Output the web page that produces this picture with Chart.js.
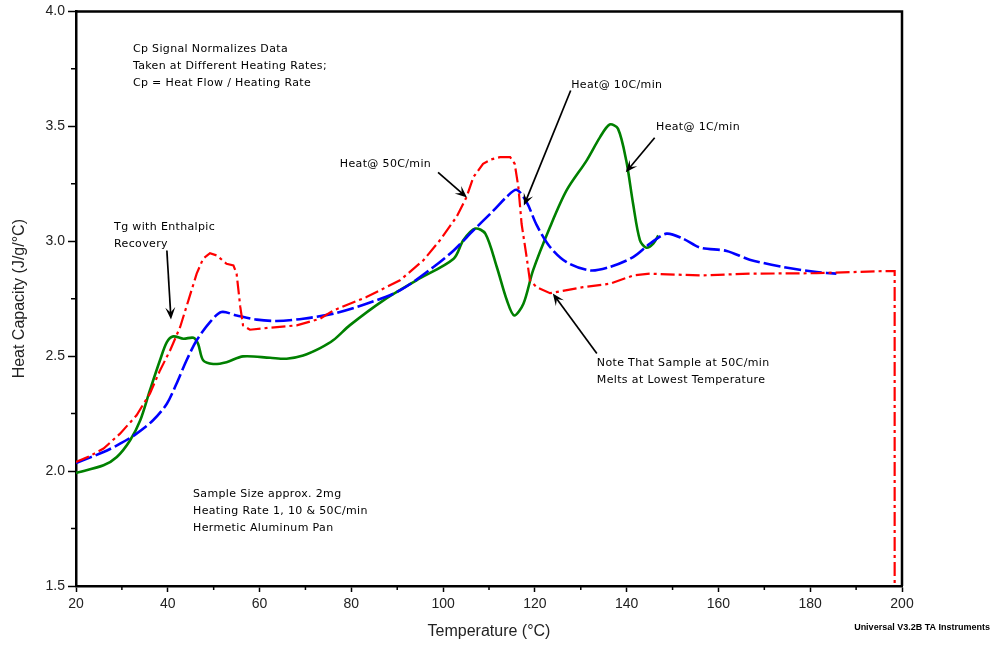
<!DOCTYPE html>
<html><head><meta charset="utf-8">
<script src="https://cdn.jsdelivr.net/npm/chart.js@4.4.0/dist/chart.umd.min.js"></script>
<style>html,body{margin:0;padding:0;background:#fff;}#wrap{width:995px;height:645px;position:relative;}</style>
</head><body><div id="wrap"><canvas id="c" width="995" height="645"></canvas></div>
<script>
// ---- data (Temperature °C, Heat Capacity J/g/°C) ----
const red50T  = [20, 23, 26, 29.6, 33.2, 36.1, 38.3, 40.5, 42.7, 44.5, 46.3, 47.7, 49.2, 50.7, 52.8, 54.3, 55.0, 55.8, 56.4, 57.9, 62.3, 68.1, 73.2, 76.1, 83.3, 90.6, 95.7, 99.3, 102.9, 105.1, 106.6, 108.7, 110.5, 112.4, 114.6, 115.6, 116.4, 117.1, 118.2, 118.9, 120.4, 123.3, 130.5, 136.3, 141.4, 145.1, 156.0, 166.8, 181.4, 195.9, 198.4, 198.4];
const red50Cp = [2.04, 2.065, 2.098, 2.163, 2.243, 2.337, 2.438, 2.525, 2.627, 2.743, 2.859, 2.924, 2.948, 2.938, 2.902, 2.895, 2.859, 2.714, 2.634, 2.615, 2.624, 2.634, 2.663, 2.699, 2.757, 2.83, 2.917, 3.004, 3.105, 3.192, 3.279, 3.337, 3.356, 3.366, 3.366, 3.337, 3.236, 3.076, 2.931, 2.83, 2.80, 2.774, 2.80, 2.815, 2.851, 2.859, 2.851, 2.859, 2.861, 2.87, 2.87, 1.5];

const blue10T  = [20, 26, 29.6, 33.2, 36.8, 39.8, 41.9, 44.1, 46.3, 49.2, 51.7, 55.0, 59.4, 63.7, 69.5, 76.1, 83.3, 90.6, 97.9, 102.3, 106.6, 111.0, 113.8, 116.0, 118.2, 120.4, 123.3, 126.9, 132.0, 136.3, 141.4, 145.1, 148.7, 152.3, 156.0, 161.8, 166.8, 174.1, 181.4, 185.7];
const blue10Cp = [2.035, 2.083, 2.119, 2.163, 2.221, 2.293, 2.38, 2.482, 2.569, 2.648, 2.692, 2.677, 2.659, 2.653, 2.663, 2.685, 2.728, 2.786, 2.888, 2.96, 3.047, 3.134, 3.192, 3.224, 3.17, 3.07, 2.975, 2.909, 2.873, 2.888, 2.931, 2.99, 3.033, 3.011, 2.972, 2.958, 2.92, 2.888, 2.866, 2.859];

const green1T  = [20, 26, 28.9, 31.8, 34.0, 36.1, 38.3, 39.8, 41.2, 43.4, 45.6, 46.6, 47.7, 49.9, 52.8, 56.4, 62.3, 65.9, 69.5, 73.2, 76.1, 79.7, 87.0, 94.2, 102.3, 104.4, 107.0, 109.2, 111.7, 113.9, 115.5, 117.5, 119.6, 123.3, 126.9, 131.3, 134.2, 136.3, 138.1, 139.9, 141.4, 142.9, 144.3, 145.8, 146.9];
const green1Cp = [1.992, 2.025, 2.061, 2.134, 2.221, 2.351, 2.482, 2.561, 2.586, 2.576, 2.58, 2.554, 2.482, 2.466, 2.474, 2.499, 2.493, 2.489, 2.503, 2.535, 2.57, 2.635, 2.743, 2.83, 2.924, 3.004, 3.055, 3.033, 2.888, 2.743, 2.677, 2.728, 2.873, 3.062, 3.221, 3.352, 3.453, 3.508, 3.49, 3.352, 3.163, 3.004, 2.972, 2.99, 3.025];

const xMajorTicks = [20, 40, 60, 80, 100, 120, 140, 160, 180, 200];
const xMinorTicks = [30, 50, 70, 90, 110, 130, 150, 170, 190];
const yMajorTicks = [1.5, 2.0, 2.5, 3.0, 3.5, 4.0];
const yMinorTicks = [1.75, 2.25, 2.75, 3.25, 3.75];

const xTitle = 'Temperature (°C)';
const yTitle = 'Heat Capacity (J/g/°C)';
const footer = 'Universal V3.2B TA Instruments';

// annotation texts anchored at (temperature, heat capacity) = left/middle of first line
const noteTexts = [
  {x: 32.4, y: 3.836, lines: ['Cp Signal Normalizes Data', 'Taken at Different Heating Rates;', 'Cp = Heat Flow / Heating Rate']},
  {x: 28.3, y: 3.06,  lines: ['Tg with Enthalpic', 'Recovery']},
  {x: 77.5, y: 3.335, lines: ['Heat@ 50C/min']},
  {x: 127.9, y: 3.68, lines: ['Heat@ 10C/min']},
  {x: 146.4, y: 3.496, lines: ['Heat@ 1C/min']},
  {x: 133.5, y: 2.469, lines: ['Note That Sample at 50C/min', 'Melts at Lowest Temperature']},
  {x: 45.5, y: 1.899, lines: ['Sample Size approx. 2mg', 'Heating Rate 1, 10 & 50C/min', 'Hermetic Aluminum Pan']}
];
// arrows: tail -> head in data coordinates
const arrowTails = [[39.8, 2.96], [98.9, 3.30], [127.8, 3.656], [146.1, 3.45], [133.5, 2.512]];
const arrowHeads = [[40.7, 2.66], [105.2, 3.19], [117.6, 3.155], [139.8, 3.30], [123.9, 2.773]];

const toXY = (xs, ys) => xs.map((x, i) => ({x: x, y: ys[i]}));

const decor = {
  id: 'decor',
  afterDatasetsDraw(chart) {
    const ctx = chart.ctx, a = chart.chartArea;
    const xs = chart.scales.x, ys = chart.scales.y;
    ctx.save();
    // frame top & right
    ctx.strokeStyle = '#000'; ctx.lineWidth = 2.5;
    ctx.beginPath();
    ctx.moveTo(a.left, a.top); ctx.lineTo(a.right, a.top); ctx.lineTo(a.right, a.bottom);
    ctx.stroke();
    // minor ticks
    ctx.lineWidth = 1.5;
    ctx.beginPath();
    xMinorTicks.forEach(v => { const px = xs.getPixelForValue(v); ctx.moveTo(px, a.bottom); ctx.lineTo(px, a.bottom + 4); });
    yMinorTicks.forEach(v => { const py = ys.getPixelForValue(v); ctx.moveTo(a.left, py); ctx.lineTo(a.left - 5, py); });
    ctx.stroke();
    // arrows
    ctx.strokeStyle = '#000'; ctx.fillStyle = '#000'; ctx.lineWidth = 1.7;
    arrowTails.forEach((t, i) => {
      const h = arrowHeads[i];
      const x0 = xs.getPixelForValue(t[0]), y0 = ys.getPixelForValue(t[1]);
      const x1 = xs.getPixelForValue(h[0]), y1 = ys.getPixelForValue(h[1]);
      const ang = Math.atan2(y1 - y0, x1 - x0);
      const L = 12, W = 5;
      const bx = x1 - L * Math.cos(ang), by = y1 - L * Math.sin(ang);
      ctx.beginPath(); ctx.moveTo(x0, y0); ctx.lineTo(x1 - 6 * Math.cos(ang), y1 - 6 * Math.sin(ang)); ctx.stroke();
      ctx.beginPath();
      ctx.moveTo(x1, y1);
      ctx.lineTo(bx + W * Math.sin(ang), by - W * Math.cos(ang));
      ctx.lineTo(x1 - 7 * Math.cos(ang), y1 - 7 * Math.sin(ang));
      ctx.lineTo(bx - W * Math.sin(ang), by + W * Math.cos(ang));
      ctx.closePath(); ctx.fill();
    });
    // notes
    ctx.font = '11px "DejaVu Sans", "Liberation Sans", Arial, sans-serif';
    try { ctx.letterSpacing = '0.35px'; } catch (e) {}
    ctx.fillStyle = '#000'; ctx.textAlign = 'left'; ctx.textBaseline = 'middle';
    noteTexts.forEach(n => {
      const px = xs.getPixelForValue(n.x), py = ys.getPixelForValue(n.y);
      n.lines.forEach((s, k) => ctx.fillText(s, px, py + k * 17));
    });
    // footer
    ctx.font = 'bold 9px "Liberation Sans Narrow", "Liberation Sans", Arial, sans-serif';
    try { ctx.letterSpacing = '0px'; } catch (e) {}
    ctx.textAlign = 'right';
    ctx.fillText(footer, chart.width - 5, 628);
    ctx.restore();
  }
};

new Chart(document.getElementById('c'), {
  type: 'line',
  data: {
    datasets: [
      {label: 'Heat@ 50C/min', data: toXY(red50T, red50Cp), borderColor: '#ff0000', borderWidth: 2.2, borderDash: [14, 4, 3, 4], tension: 0, pointRadius: 0, fill: false},
      {label: 'Heat@ 10C/min', data: toXY(blue10T, blue10Cp), borderColor: '#0000ff', borderWidth: 2.6, borderDash: [17, 4], tension: 0.3, pointRadius: 0, fill: false},
      {label: 'Heat@ 1C/min', data: toXY(green1T, green1Cp), borderColor: '#008000', borderWidth: 2.6, tension: 0.3, pointRadius: 0, fill: false}
    ]
  },
  options: {
    responsive: false, animation: false, devicePixelRatio: 1,
    layout: {padding: {top: 11, right: 93, left: 0, bottom: 0}},
    plugins: {legend: {display: false}, tooltip: {enabled: false}},
    scales: {
      x: {
        type: 'linear', min: 20, max: 200,
        afterBuildTicks: s => { s.ticks = xMajorTicks.map(v => ({value: v})); },
        afterFit: s => { s.height = 59; },
        ticks: {font: {family: 'Liberation Sans, Arial, sans-serif', size: 14}, color: '#222', padding: 4, maxRotation: 0, autoSkip: false, callback: v => String(v)},
        grid: {drawOnChartArea: false, drawTicks: true, tickLength: 6, tickColor: '#000', tickWidth: 1.5, color: '#000'},
        border: {display: true, color: '#000', width: 2.5},
        title: {display: true, text: xTitle, color: '#222', font: {family: 'Liberation Sans, Arial, sans-serif', size: 16}, padding: {top: 0, bottom: 4}}
      },
      y: {
        type: 'linear', min: 1.5, max: 4.0,
        afterBuildTicks: s => { s.ticks = yMajorTicks.map(v => ({value: v})); },
        afterFit: s => { s.width = 76; },
        ticks: {font: {family: 'Liberation Sans, Arial, sans-serif', size: 14}, color: '#222', padding: 3, autoSkip: false, callback: v => Number(v).toFixed(1)},
        grid: {drawOnChartArea: false, drawTicks: true, tickLength: 8, tickColor: '#000', tickWidth: 1.5, color: '#000'},
        border: {display: true, color: '#000', width: 2.5},
        title: {display: true, text: yTitle, color: '#222', font: {family: 'Liberation Sans, Arial, sans-serif', size: 16}, padding: {top: 10, bottom: 0}}
      }
    }
  },
  plugins: [decor]
});
</script></body></html>
